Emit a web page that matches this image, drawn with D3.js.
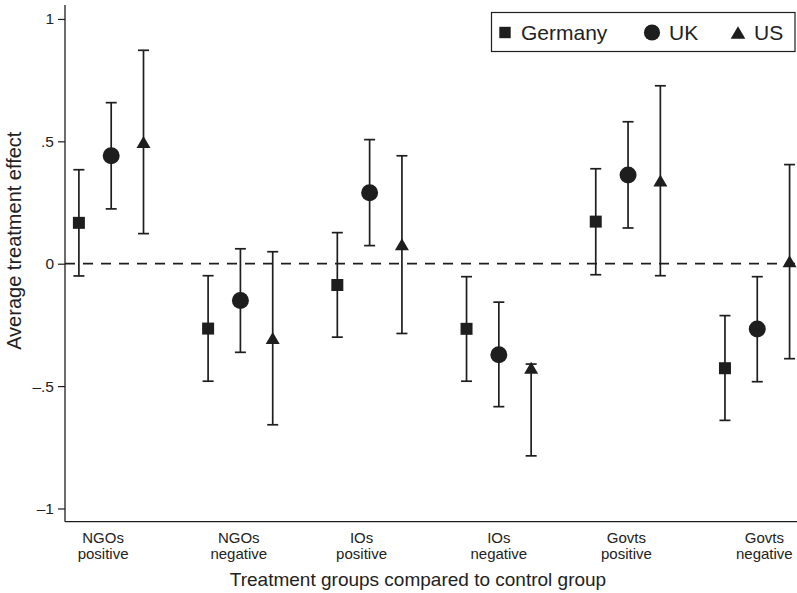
<!DOCTYPE html>
<html>
<head>
<meta charset="utf-8">
<script src="https://cdn.jsdelivr.net/npm/d3@7"></script>
<style>
  html, body { margin: 0; padding: 0; background: #fff; }
  svg { display: block; }
  text { font-family: "Liberation Sans", Arial, Helvetica, sans-serif; fill: #222; }
</style>
</head>
<body>
<svg id="chart" width="797" height="593"></svg>
<script>
// Treatment groups (x-axis categories) and their two-line labels
const groups = ["NGOs positive", "NGOs negative", "IOs positive", "IOs negative", "Govts positive", "Govts negative"];
const groupLabelLines = [["NGOs", "positive"], ["NGOs", "negative"], ["IOs", "positive"], ["IOs", "negative"], ["Govts", "positive"], ["Govts", "negative"]];
const groupLabelAt = [0.75, 4.95, 8.75, 13.0, 16.95, 21.22];

const countries = ["Germany", "UK", "US"];

// Average treatment effects with 95% confidence bounds, one value per group
const germanyEst = [0.167, -0.265, -0.087, -0.266, 0.172, -0.427];
const germanyLo  = [-0.050, -0.480, -0.300, -0.480, -0.045, -0.640];
const germanyHi  = [0.384, -0.049, 0.127, -0.053, 0.388, -0.212];

const ukEst = [0.441, -0.150, 0.290, -0.372, 0.362, -0.267];
const ukLo  = [0.224, -0.362, 0.074, -0.584, 0.146, -0.482];
const ukHi  = [0.658, 0.061, 0.507, -0.157, 0.580, -0.053];

const usEst = [0.497, -0.303, 0.080, -0.425, 0.340, 0.010];
const usLo  = [0.123, -0.658, -0.285, -0.785, -0.049, -0.388];
const usHi  = [0.872, 0.049, 0.441, -0.410, 0.727, 0.405];

const yTicks = [1, 0.5, 0, -0.5, -1];
const yTickLabels = ["1", ".5", "0", "\u2013.5", "\u20131"];

const series = [
  { name: countries[0], shape: "square",   est: germanyEst, lo: germanyLo, hi: germanyHi },
  { name: countries[1], shape: "circle",   est: ukEst,      lo: ukLo,      hi: ukHi },
  { name: countries[2], shape: "triangle", est: usEst,      lo: usLo,      hi: usHi }
];

const ink = "#1e1e1e";
const svg = d3.select("#chart");

// Plot region
const plotLeft = 65, plotRight = 797, plotTop = 5, plotBottom = 521.7;

// Position index: group g, country k -> 4*g + k
const x = d3.scaleLinear().domain([-0.43, 22.23]).range([plotLeft, plotRight]);
const y = d3.scaleLinear().domain([-1.054, 1.057]).range([plotBottom, plotTop]);

// Marker path generators centred on (0,0)
function markerPath(shape, s) {
  if (shape === "square") {
    const h = 6 * s;
    return `M${-h},${-h}H${h}V${h}H${-h}Z`;
  }
  if (shape === "circle") {
    const r = 8.5 * s;
    return `M${r},0A${r},${r} 0 1,1 ${-r},0A${r},${r} 0 1,1 ${r},0Z`;
  }
  const w = 7 * s, h = 6 * s;
  return `M0,${-h}L${w},${h}L${-w},${h}Z`;
}

// Dashed zero reference line
svg.append("line")
  .attr("x1", plotLeft).attr("x2", plotRight)
  .attr("y1", y(0)).attr("y2", y(0))
  .attr("stroke", ink).attr("stroke-width", 1.8)
  .attr("stroke-dasharray", "10,8");

// Y axis
const yAxis = d3.axisLeft(y)
  .tickValues(yTicks)
  .tickFormat((d, i) => yTickLabels[i])
  .tickSize(7)
  .tickPadding(4);
const gy = svg.append("g").attr("transform", `translate(${plotLeft},0)`).call(yAxis);
gy.select(".domain").remove();
gy.selectAll(".tick line").attr("stroke", ink).attr("stroke-width", 1.2);
gy.selectAll(".tick text").attr("font-size", 15.5).attr("fill", "#222")
  .attr("font-family", "'Liberation Sans', Arial, sans-serif");

// Axis lines (left and bottom)
svg.append("line").attr("x1", plotLeft).attr("x2", plotLeft).attr("y1", plotTop).attr("y2", plotBottom)
  .attr("stroke", ink).attr("stroke-width", 1.3);
svg.append("line").attr("x1", plotLeft).attr("x2", plotRight).attr("y1", plotBottom).attr("y2", plotBottom)
  .attr("stroke", ink).attr("stroke-width", 1.3);

// X axis group labels
const xl = svg.append("g");
groupLabelLines.forEach((lines, i) => {
  const t = xl.append("text")
    .attr("x", x(groupLabelAt[i]))
    .attr("y", 543)
    .attr("text-anchor", "middle")
    .attr("font-size", 15);
  lines.forEach((ln, j) => {
    t.append("tspan").attr("x", x(groupLabelAt[i])).attr("dy", j === 0 ? 0 : 16).text(ln);
  });
});

// Axis titles
svg.append("text")
  .attr("x", 418).attr("y", 586)
  .attr("text-anchor", "middle")
  .attr("font-size", 19)
  .text("Treatment groups compared to control group");

svg.append("text")
  .attr("transform", `translate(21,${y(0) - 23}) rotate(-90)`)
  .attr("text-anchor", "middle")
  .attr("font-size", 20)
  .text("Average treatment effect");

// Error bars and point estimates
const capHalf = 5.5;
series.forEach((s, k) => {
  const g = svg.append("g");
  groups.forEach((grp, gi) => {
    const px = x(4 * gi + k);
    g.append("line")
      .attr("x1", px).attr("x2", px)
      .attr("y1", y(s.lo[gi])).attr("y2", y(s.hi[gi]))
      .attr("stroke", ink).attr("stroke-width", 1.7);
    [s.lo[gi], s.hi[gi]].forEach(v => {
      g.append("line")
        .attr("x1", px - capHalf).attr("x2", px + capHalf)
        .attr("y1", y(v)).attr("y2", y(v))
        .attr("stroke", ink).attr("stroke-width", 1.7);
    });
    g.append("path")
      .attr("d", markerPath(s.shape, 1))
      .attr("transform", `translate(${px},${y(s.est[gi])})`)
      .attr("fill", ink);
  });
});

// Legend
const legend = svg.append("g");
legend.append("rect")
  .attr("x", 491.5).attr("y", 12.5).attr("width", 303.5).attr("height", 39)
  .attr("fill", "#fff").attr("stroke", ink).attr("stroke-width", 1.2);
const legendItems = [
  { shape: "square",   mx: 505, tx: 521, scale: 0.95, label: countries[0] },
  { shape: "circle",   mx: 652, tx: 669, scale: 0.95, label: countries[1] },
  { shape: "triangle", mx: 738, tx: 754, scale: 1.05, label: countries[2] }
];
legendItems.forEach(it => {
  legend.append("path")
    .attr("d", markerPath(it.shape, it.scale))
    .attr("transform", `translate(${it.mx},32.5)`)
    .attr("fill", ink);
  legend.append("text")
    .attr("x", it.tx).attr("y", 39.5)
    .attr("font-size", 21)
    .text(it.label);
});
</script>
</body>
</html>
